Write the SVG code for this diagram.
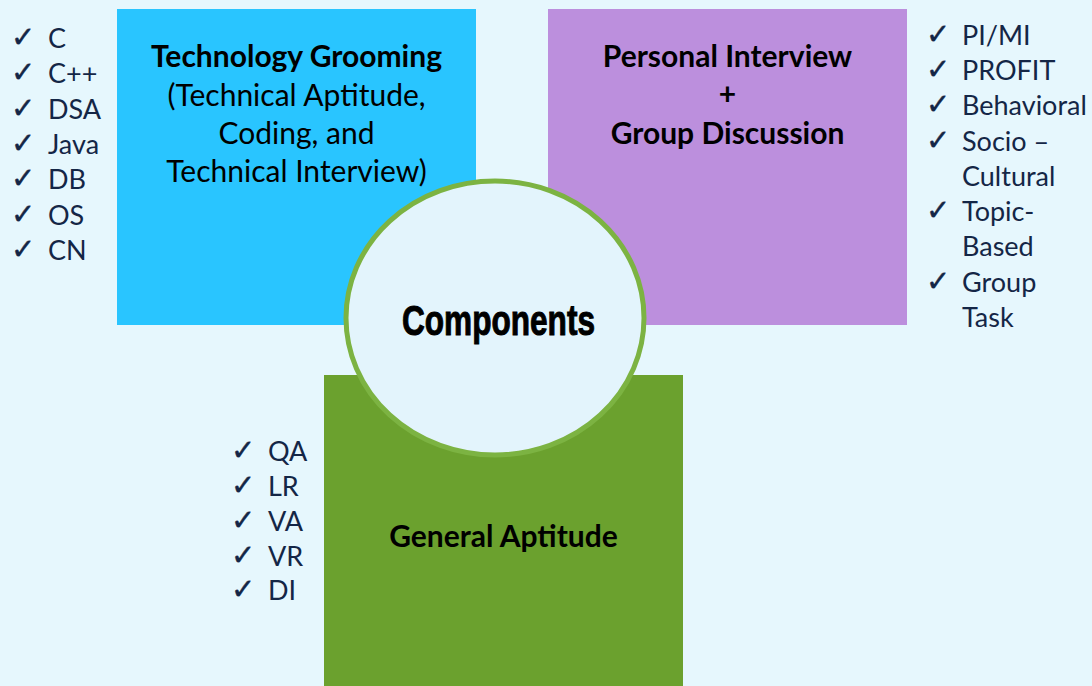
<svg xmlns="http://www.w3.org/2000/svg" width="1092" height="686" viewBox="0 0 1092 686">
<style>
.title{font-family:Lato,"Liberation Sans",sans-serif;font-size:30px;font-weight:bold;fill:#000;text-anchor:middle}
.sub{font-family:Lato,"Liberation Sans",sans-serif;font-size:30px;fill:#000;text-anchor:middle}
.item{font-family:Lato,"Liberation Sans",sans-serif;font-size:27px;fill:#142646}
.chk{font-family:"DejaVu Sans",sans-serif;font-size:29px;fill:#142646;stroke:#142646;stroke-width:0.4}
.comp{font-family:"Liberation Sans",sans-serif;font-size:42px;font-weight:bold;fill:#000;stroke:#000;stroke-width:1}
</style>
<rect x="0" y="0" width="1092" height="686" fill="#E6F7FD"/>
<g id="tech">
<rect x="117" y="9" width="359" height="316" fill="#29C5FF"/>
<text class="title" x="296.5" y="67">Technology Grooming</text>
<text class="sub" x="296.5" y="106">(Technical Aptitude,</text>
<text class="sub" x="296.5" y="144">Coding, and</text>
<text class="sub" x="296.5" y="182">Technical Interview)</text>
</g>
<g id="personal">
<rect x="548" y="9" width="359" height="316" fill="#BC8FDD"/>
<text class="title" x="727.5" y="67">Personal Interview</text>
<text class="title" x="727.5" y="105">+</text>
<text class="title" x="727.5" y="144">Group Discussion</text>
</g>
<g id="general">
<rect x="324" y="375" width="359" height="311" fill="#6BA12E"/>
<text class="title" x="503.5" y="547">General Aptitude</text>
</g>
<g id="components">
<ellipse cx="495" cy="318" rx="149" ry="137" fill="#E3F4FC" stroke="#7CB342" stroke-width="5"/>
<text class="comp" x="402" y="335" textLength="193" lengthAdjust="spacingAndGlyphs">Components</text>
</g>
<g id="tech-list">
<text class="chk" x="11" y="47">✓</text><text class="item" x="48" y="48">C</text>
<text class="chk" x="11" y="82">✓</text><text class="item" x="48" y="83">C++</text>
<text class="chk" x="11" y="118">✓</text><text class="item" x="48" y="119">DSA</text>
<text class="chk" x="11" y="153">✓</text><text class="item" x="48" y="154">Java</text>
<text class="chk" x="11" y="188">✓</text><text class="item" x="48" y="189">DB</text>
<text class="chk" x="11" y="224">✓</text><text class="item" x="48" y="225">OS</text>
<text class="chk" x="11" y="259">✓</text><text class="item" x="48" y="260">CN</text>
</g>
<g id="personal-list">
<text class="chk" x="926" y="44">✓</text><text class="item" x="962" y="45">PI/MI</text>
<text class="chk" x="926" y="79">✓</text><text class="item" x="962" y="80">PROFIT</text>
<text class="chk" x="926" y="114">✓</text><text class="item" x="962" y="115">Behavioral</text>
<text class="chk" x="926" y="150">✓</text><text class="item" x="962" y="151">Socio –</text>
<text class="item" x="962" y="186">Cultural</text>
<text class="chk" x="926" y="220">✓</text><text class="item" x="962" y="221">Topic-</text>
<text class="item" x="962" y="256">Based</text>
<text class="chk" x="926" y="291">✓</text><text class="item" x="962" y="292">Group</text>
<text class="item" x="962" y="327">Task</text>
</g>
<g id="general-list">
<text class="chk" x="231" y="460">✓</text><text class="item" x="268" y="461">QA</text>
<text class="chk" x="231" y="495">✓</text><text class="item" x="268" y="496">LR</text>
<text class="chk" x="231" y="530">✓</text><text class="item" x="268" y="531">VA</text>
<text class="chk" x="231" y="565">✓</text><text class="item" x="268" y="566">VR</text>
<text class="chk" x="231" y="599">✓</text><text class="item" x="268" y="600">DI</text>
</g>
<g id="connectors"/>
</svg>
